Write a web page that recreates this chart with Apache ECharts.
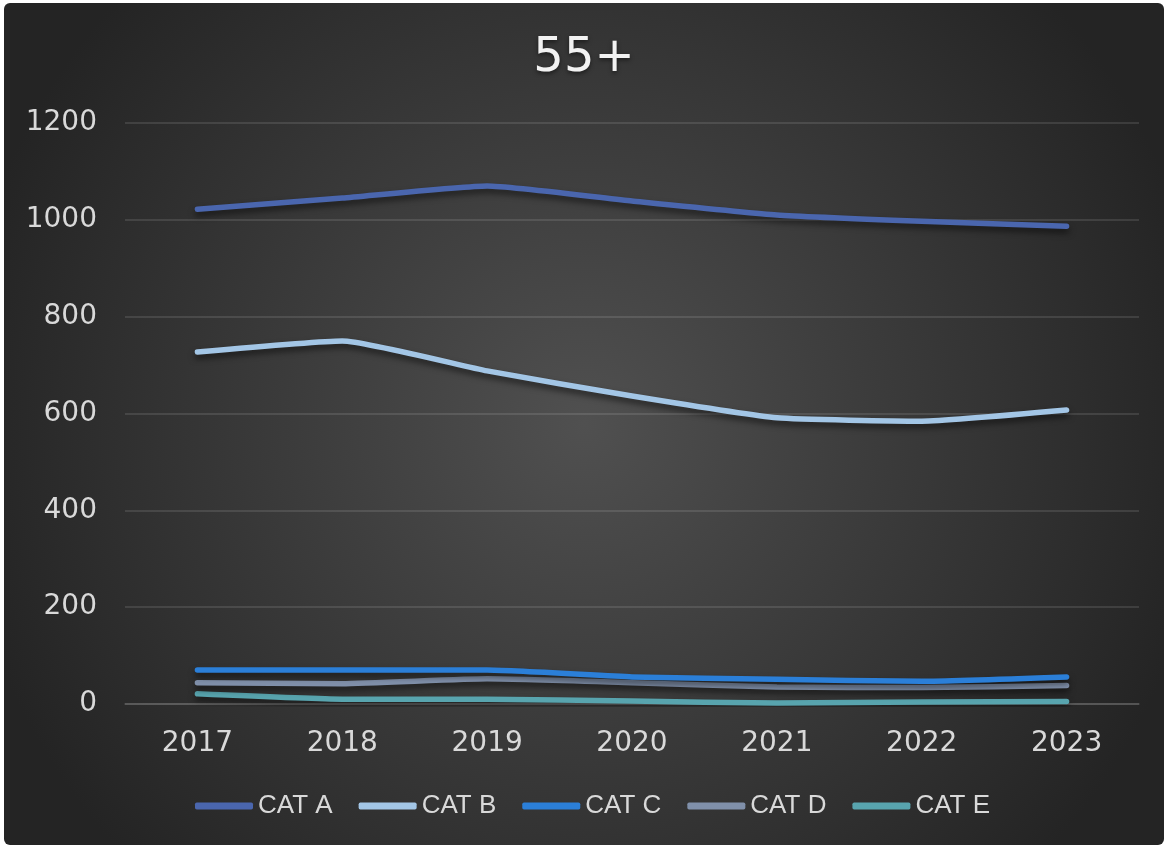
<!DOCTYPE html>
<html>
<head>
<meta charset="utf-8">
<script src="https://cdn.jsdelivr.net/npm/echarts@6/dist/echarts.min.js"></script>
<style>
html,body{margin:0;padding:0;background:#ffffff;}
#chart{position:absolute;left:4px;top:3px;width:1160px;height:842px;border-radius:6px;overflow:hidden;}
</style>
</head>
<body>
<div id="chart"></div>
<script>
const categories = ['2017','2018','2019','2020','2021','2022','2023'];
const catA = [1022, 1045, 1070, 1039, 1010, 997, 987];
const catB = [727, 750, 688, 636, 591, 584, 607];
const catC = [70, 70, 70, 56, 51, 47, 56];
const catD = [44, 42, 52, 44, 35, 34, 38];
const catE = [21, 10, 10, 6, 2, 4, 5];
const seriesNames = ['CAT A','CAT B','CAT C','CAT D','CAT E'];
const seriesColors = ['#4a66ae','#a3c6e6','#2b7fd8','#8090aa','#58a4ae'];
const yTicks = {min: 0, max: 1200, interval: 200};

const chart = echarts.init(document.getElementById('chart'));
const dataSets = [catA, catB, catC, catD, catE];
const series = dataSets.map((d, i) => ({
  name: seriesNames[i],
  type: 'line',
  data: d,
  smooth: 0.15,
  showSymbol: false,
  symbol: 'none',
  color: seriesColors[i],
  lineStyle: {
    width: 5.5,
    color: seriesColors[i],
    cap: 'round',
    join: 'round',
    shadowColor: 'rgba(0,0,0,0.55)',
    shadowBlur: 6,
    shadowOffsetY: 4
  },
  emphasis: {disabled: true},
  z: 10 - i
}));

chart.setOption({
  animation: false,
  backgroundColor: {
    type: 'radial', x: 0.5, y: 0.5, r: 0.75,
    colorStops: [{offset: 0, color: '#505050'}, {offset: 1, color: '#242424'}]
  },
  title: {
    text: '55+',
    left: 'center',
    top: 27,
    textStyle: {
      color: '#f2f2f2', fontSize: 48, fontWeight: 'normal', fontFamily: 'DejaVu Sans',
      textShadowColor: 'rgba(0,0,0,0.5)', textShadowBlur: 4, textShadowOffsetY: 2
    }
  },
  legend: {
    data: seriesNames,
    left: 186,
    top: 785,
    itemWidth: 58,
    itemHeight: 7,
    itemGap: 26,
    icon: 'roundRect',
    textStyle: {color: '#d9d9d9', fontSize: 26, fontFamily: "'Liberation Sans', sans-serif"}
  },
  grid: {left: 121, right: 25, top: 120, bottom: 141, containLabel: false},
  xAxis: {
    type: 'category',
    data: categories,
    boundaryGap: true,
    axisLine: {show: true, lineStyle: {color: 'rgba(255,255,255,0.17)', width: 1.5}},
    axisTick: {show: false},
    axisLabel: {color: '#d9d9d9', fontSize: 28, fontFamily: 'DejaVu Sans', margin: 26},
    splitLine: {show: false}
  },
  yAxis: {
    type: 'value',
    min: yTicks.min, max: yTicks.max, interval: yTicks.interval,
    axisLine: {show: false},
    axisTick: {show: false},
    axisLabel: {color: '#d9d9d9', fontSize: 28, fontFamily: 'DejaVu Sans', margin: 28,
      formatter: v => String(v)},
    splitLine: {lineStyle: {color: 'rgba(255,255,255,0.15)', width: 1.5}}
  },
  series: series
});
</script>
</body>
</html>
